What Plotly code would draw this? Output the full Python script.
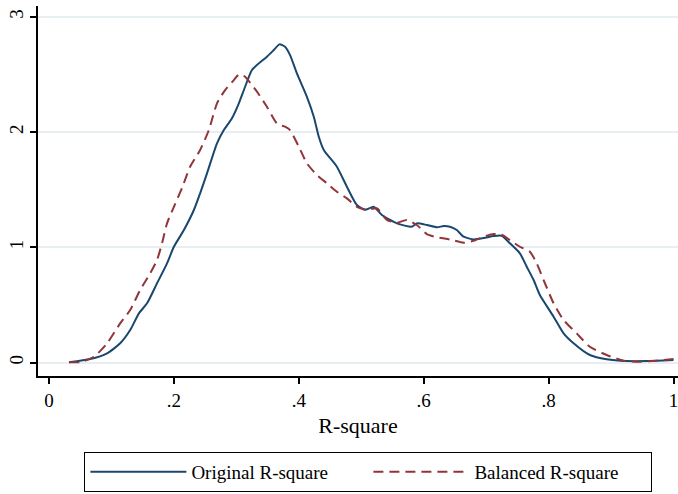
import plotly.graph_objects as go

# Original R-square density
orig_x = [0.032, 0.066, 0.093, 0.114, 0.130, 0.144, 0.157, 0.173, 0.189, 0.200, 0.216, 0.232,
          0.242, 0.253, 0.269, 0.280, 0.293, 0.304, 0.314, 0.325, 0.336, 0.349, 0.360, 0.369,
          0.378, 0.386, 0.397, 0.413, 0.424, 0.432, 0.440, 0.461, 0.477, 0.493, 0.506, 0.520,
          0.533, 0.557, 0.581, 0.589, 0.605, 0.621, 0.632, 0.642, 0.653, 0.664, 0.680, 0.696,
          0.712, 0.725, 0.738, 0.754, 0.765, 0.776, 0.786, 0.808, 0.824, 0.840, 0.866, 0.893,
          0.925, 0.957, 1.000]
orig_y = [0.002, 0.030, 0.080, 0.167, 0.282, 0.427, 0.514, 0.688, 0.861, 1.005, 1.150, 1.324,
          1.469, 1.642, 1.903, 2.018, 2.120, 2.250, 2.394, 2.539, 2.597, 2.655, 2.713, 2.762,
          2.741, 2.669, 2.510, 2.307, 2.134, 1.960, 1.845, 1.700, 1.526, 1.367, 1.326, 1.352,
          1.280, 1.208, 1.179, 1.208, 1.194, 1.174, 1.185, 1.179, 1.150, 1.092, 1.069, 1.081,
          1.098, 1.101, 1.035, 0.948, 0.832, 0.716, 0.586, 0.398, 0.253, 0.167, 0.065, 0.028,
          0.013, 0.013, 0.022]

# Balanced R-square density
bal_x = [0.032, 0.050, 0.072, 0.093, 0.114, 0.130, 0.146, 0.162, 0.173, 0.181, 0.189, 0.200,
         0.213, 0.226, 0.242, 0.256, 0.269, 0.282, 0.296, 0.305, 0.314, 0.333, 0.349, 0.365,
         0.378, 0.386, 0.400, 0.413, 0.429, 0.445, 0.461, 0.477, 0.493, 0.509, 0.525, 0.541,
         0.557, 0.573, 0.589, 0.605, 0.621, 0.642, 0.664, 0.680, 0.696, 0.712, 0.725, 0.738,
         0.754, 0.770, 0.781, 0.792, 0.808, 0.824, 0.845, 0.866, 0.893, 0.920, 0.946, 0.973,
         1.000]
bal_y = [0.002, 0.004, 0.050, 0.167, 0.340, 0.456, 0.629, 0.774, 0.890, 1.035, 1.208, 1.352,
         1.515, 1.700, 1.845, 2.018, 2.250, 2.365, 2.452, 2.504, 2.481, 2.351, 2.220, 2.076,
         2.047, 2.018, 1.873, 1.729, 1.628, 1.556, 1.483, 1.425, 1.352, 1.326, 1.339, 1.238,
         1.214, 1.238, 1.194, 1.115, 1.087, 1.068, 1.040, 1.057, 1.092, 1.115, 1.109, 1.063,
         1.005, 0.962, 0.861, 0.716, 0.514, 0.369, 0.253, 0.137, 0.065, 0.016, 0.007, 0.016,
         0.030]

x_ticks = [0, 0.2, 0.4, 0.6, 0.8, 1]
x_tick_labels = ["0", ".2", ".4", ".6", ".8", "1"]
y_ticks = [0, 1, 2, 3]
y_tick_labels = ["0", "1", "2", "3"]

FONT = "Liberation Serif"
BLUE = "#1a476f"
RED = "#90353b"

fig = go.Figure()
fig.add_trace(go.Scatter(x=orig_x, y=orig_y, mode="lines", name="Original R-square",
                         line=dict(color=BLUE, width=2, shape="spline", smoothing=0.6)))
fig.add_trace(go.Scatter(x=bal_x, y=bal_y, mode="lines", name="Balanced R-square",
                         line=dict(color=RED, width=2, dash="10px,6px", shape="spline", smoothing=0.6)))

fig.update_layout(
    width=678, height=494,
    margin=dict(l=38, r=0, t=6, b=118),
    paper_bgcolor="white", plot_bgcolor="white",
    font=dict(family=FONT, color="black", size=16),
    xaxis=dict(range=[-0.0176, 1.0072], tickvals=x_ticks, ticktext=x_tick_labels,
               showline=True, linecolor="black", linewidth=1.5, ticks="outside",
               ticklen=6, tickwidth=1.5, tickcolor="black", showgrid=False, zeroline=False,
               tickfont=dict(size=19), automargin=False, ticklabeloverflow="allow",
               title=dict(text="R-square", font=dict(size=22), standoff=8)),
    yaxis=dict(range=[-0.117, 3.095], tickvals=y_ticks, ticktext=y_tick_labels,
               showline=True, linecolor="black", linewidth=1.5, ticks="outside",
               ticklen=6, tickwidth=1.5, tickcolor="black", showgrid=True,
               gridcolor="#e8eff2", gridwidth=1.5, zeroline=False, tickangle=-90,
               tickfont=dict(size=19), automargin=False),
    legend=dict(orientation="h", x=0.0725, xanchor="left", y=-0.2054, yanchor="top",
                bordercolor="black", borderwidth=1, font=dict(size=19), itemwidth=96,
                entrywidth=172, tracegroupgap=0),
    showlegend=True,
)

fig.write_html("out.html", config={"displayModeBar": False},
               post_script="document.body.style.margin='0px';")
